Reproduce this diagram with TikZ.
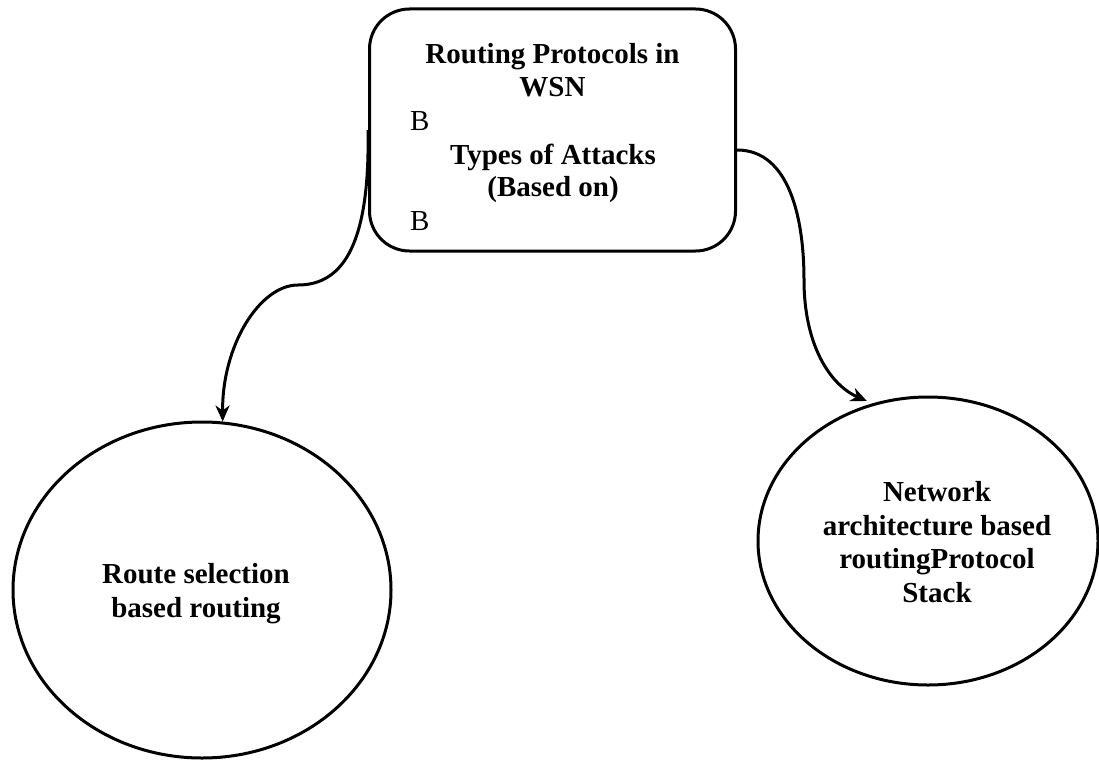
\documentclass[tikz,border=0pt]{standalone}
\usepackage{fontspec}
\setmainfont{Liberation Serif}
\usetikzlibrary{arrows.meta,shapes.geometric}
\tikzset{
  boxnode/.style={draw=black,line width=3pt,rounded corners=40pt,minimum width=366pt,minimum height=242pt,inner sep=0pt},
  ovalnode/.style={draw=black,line width=3pt,ellipse,inner sep=0pt},
  bigtext/.style={font=\fontsize{29}{33.4}\selectfont\bfseries,align=center,inner sep=0pt},
  plaintext/.style={font=\fontsize{29}{33.4}\selectfont,inner sep=0pt},
  link/.style={line width=3pt,-{Stealth[length=16pt,width=14pt,inset=5pt]}}
}
\begin{document}
\begin{tikzpicture}[x=1pt,y=-1pt]
\useasboundingbox (0,0) rectangle (1099,760);
\node[boxnode] (top) at (552.5,130) {};
\node[ovalnode,minimum width=378pt,minimum height=336pt] (L) at (202,590) {};
\node[ovalnode,minimum width=340pt,minimum height=288pt] (R) at (928,541) {};
\node[bigtext,anchor=base] (t1) at (552.5,63.3) {Routing Protocols in};
\node[bigtext,anchor=base] (t2) at (552.5,96.7) {WSN};
\node[plaintext,anchor=base west] (b1) at (410,130) {B};
\node[bigtext,anchor=base] (t3) at (553,164.3) {Types of Attacks};
\node[bigtext,anchor=base] (t4) at (553,196.7) {(Based on)};
\node[plaintext,anchor=base west] (b2) at (410,230) {B};
\node[bigtext,anchor=base] (l1) at (196,583) {Route selection};
\node[bigtext,anchor=base] (l2) at (196,617) {based routing};
\node[bigtext,anchor=base] (r1) at (937,501) {Network};
\node[bigtext,anchor=base] (r2) at (937,535) {architecture based};
\node[bigtext,anchor=base] (r3) at (937,568) {routingProtocol};
\node[bigtext,anchor=base] (r4) at (937,602) {Stack};
\draw[link] (top.west) .. controls (370,240) and (345,285) .. (298,285)
  .. controls (260,285) and (222,345) .. (L.83);
\draw[link,shorten >=6pt] ([yshift=-20pt]top.east) .. controls (790,150) and (804,220) .. (804,280)
  .. controls (804,345) and (830,385) .. (R.112);
\end{tikzpicture}
\end{document}
